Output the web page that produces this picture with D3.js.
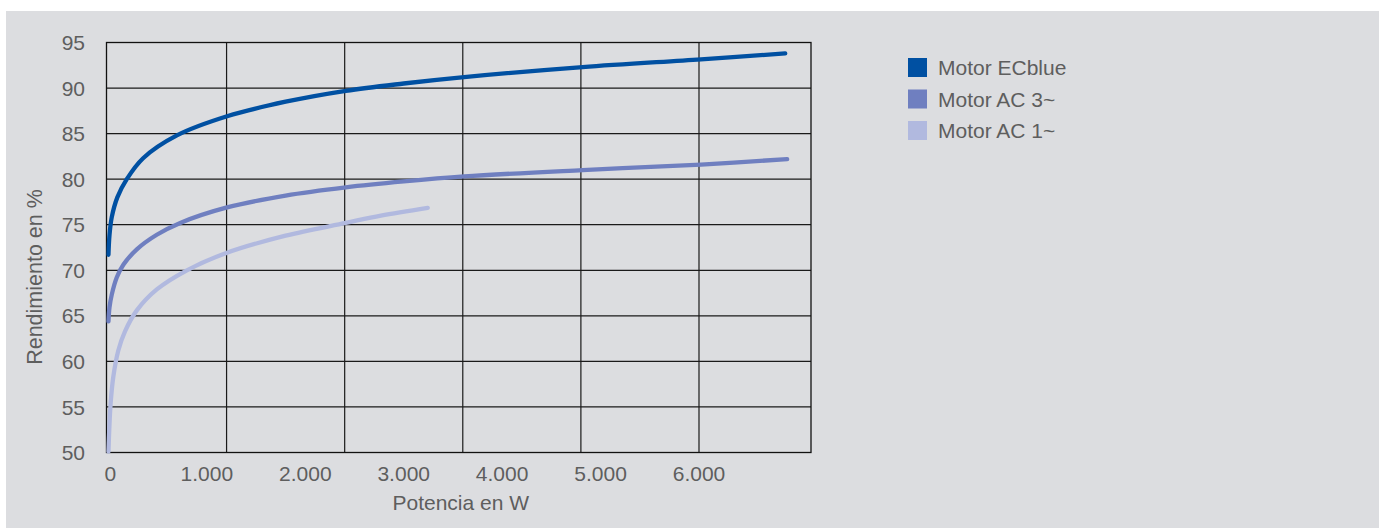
<!DOCTYPE html>
<html>
<head>
<meta charset="utf-8">
<script src="https://cdn.jsdelivr.net/npm/d3@7"></script>
<style>
  body { margin: 0; background: #ffffff; }
  text { font-family: "Liberation Sans", Arial, sans-serif; }
</style>
</head>
<body>
<svg></svg>
<script>
// Rendimiento de motores ECblue vs AC

const seriesNames = ["Motor ECblue", "Motor AC 3~", "Motor AC 1~"];
const seriesColors = ["#0050a2", "#6f7fc0", "#b1b9df"];

const ecbluePower = [0, 10, 33, 90, 186, 352, 695, 1205, 1800, 2411, 3000, 3614, 4817, 6020, 6876];
const ecblueEff = [71.7, 73.8, 75.8, 78.0, 80.0, 82.3, 84.8, 86.9, 88.5, 89.7, 90.5, 91.2, 92.3, 93.15, 93.8];

const ac3Power = [0, 10, 33, 84, 151, 288, 491, 729, 1205, 1800, 2411, 3000, 3614, 4817, 6020, 6896];
const ac3Eff = [64.4, 65.9, 67.3, 69.2, 70.6, 72.3, 73.9, 75.2, 76.9, 78.2, 79.1, 79.75, 80.3, 81.0, 81.6, 82.2];

const ac1Power = [0, 8, 22, 49, 100, 168, 288, 491, 797, 1198, 1800, 2411, 2768, 3244];
const ac1Eff = [50.1, 52.5, 55.4, 58.3, 61.2, 63.3, 65.6, 67.9, 70.0, 71.9, 73.8, 75.2, 76.0, 76.85];

const xTicks = [0, 1000, 2000, 3000, 4000, 5000, 6000];
const xGrid = [1200, 2400, 3600, 4800, 6000];
const yTicks = [50, 55, 60, 65, 70, 75, 80, 85, 90, 95];

const width = 1379;
const height = 528;
const plotLeft = 106.5;
const plotRight = 811;
const plotTop = 42.5;
const plotBottom = 452.5;
const textColor = "#5e5e5e";
const fontSize = 21;

const es = d3.formatLocale({ decimal: ",", thousands: ".", grouping: [3], currency: ["", "€"] });
const fmt = es.format(",");

const svg = d3.select("svg").attr("width", width).attr("height", height);

svg.append("rect").attr("width", width).attr("height", height).attr("fill", "#ffffff");
svg.append("rect")
  .attr("x", 6)
  .attr("y", 11)
  .attr("width", width - 6)
  .attr("height", height - 11)
  .attr("fill", "#dcdde0");

const x = d3.scaleLinear().domain([-20, 7138]).range([plotLeft, plotRight]);
const y = d3.scaleLinear().domain([50, 95]).range([plotBottom, plotTop]);

// grid
svg.append("g")
  .selectAll("line")
  .data(yTicks.slice(1, -1))
  .enter()
  .append("line")
  .attr("x1", plotLeft)
  .attr("x2", plotRight)
  .attr("y1", (d) => y(d))
  .attr("y2", (d) => y(d))
  .attr("stroke", "#1a1a1a")
  .attr("stroke-width", 1.2);

svg.append("g")
  .selectAll("line")
  .data(xGrid)
  .enter()
  .append("line")
  .attr("x1", (d) => x(d))
  .attr("x2", (d) => x(d))
  .attr("y1", plotTop)
  .attr("y2", plotBottom)
  .attr("stroke", "#1a1a1a")
  .attr("stroke-width", 1.2);

svg.append("rect")
  .attr("x", plotLeft)
  .attr("y", plotTop)
  .attr("width", plotRight - plotLeft)
  .attr("height", plotBottom - plotTop)
  .attr("fill", "none")
  .attr("stroke", "#111111")
  .attr("stroke-width", 1.3);

// tick labels
svg.append("g")
  .selectAll("text")
  .data(yTicks)
  .enter()
  .append("text")
  .attr("x", 85)
  .attr("y", (d) => y(d))
  .attr("dy", "0.36em")
  .attr("text-anchor", "end")
  .attr("font-size", fontSize)
  .attr("fill", textColor)
  .text((d) => d);

svg.append("g")
  .selectAll("text")
  .data(xTicks)
  .enter()
  .append("text")
  .attr("x", (d) => x(d) + (d === 0 ? 2 : 0))
  .attr("y", 481)
  .attr("text-anchor", "middle")
  .attr("font-size", fontSize)
  .attr("fill", textColor)
  .text((d) => fmt(d));

svg.append("text")
  .attr("x", (plotLeft + plotRight) / 2 + 2)
  .attr("y", 510)
  .attr("text-anchor", "middle")
  .attr("font-size", fontSize)
  .attr("fill", textColor)
  .text("Potencia en W");

svg.append("text")
  .attr("transform", "translate(41.5,277) rotate(-90)")
  .attr("text-anchor", "middle")
  .attr("font-size", 21.5)
  .attr("fill", textColor)
  .text("Rendimiento en %");

// curves
const series = [
  { name: seriesNames[2], color: seriesColors[2], xs: ac1Power, ys: ac1Eff },
  { name: seriesNames[1], color: seriesColors[1], xs: ac3Power, ys: ac3Eff },
  { name: seriesNames[0], color: seriesColors[0], xs: ecbluePower, ys: ecblueEff },
];

const line = d3.line()
  .x((d) => x(d[0]))
  .y((d) => y(d[1]))
  .curve(d3.curveCatmullRom.alpha(0.5));

svg.append("g")
  .selectAll("path")
  .data(series)
  .enter()
  .append("path")
  .attr("d", (s) => line(s.xs.map((v, i) => [v, s.ys[i]])))
  .attr("fill", "none")
  .attr("stroke", (s) => s.color)
  .attr("stroke-width", 4.3)
  .attr("stroke-linecap", "round")
  .attr("stroke-linejoin", "round");

// legend
const legend = svg.append("g")
  .selectAll("g")
  .data(seriesNames)
  .enter()
  .append("g")
  .attr("transform", (d, i) => "translate(908," + (58 + i * 31.5) + ")");

legend.append("rect")
  .attr("width", 19)
  .attr("height", 19)
  .attr("fill", (d, i) => seriesColors[i]);

legend.append("text")
  .attr("x", 30)
  .attr("y", 17)
  .attr("font-size", fontSize)
  .attr("fill", textColor)
  .text((d) => d);
</script>
</body>
</html>
